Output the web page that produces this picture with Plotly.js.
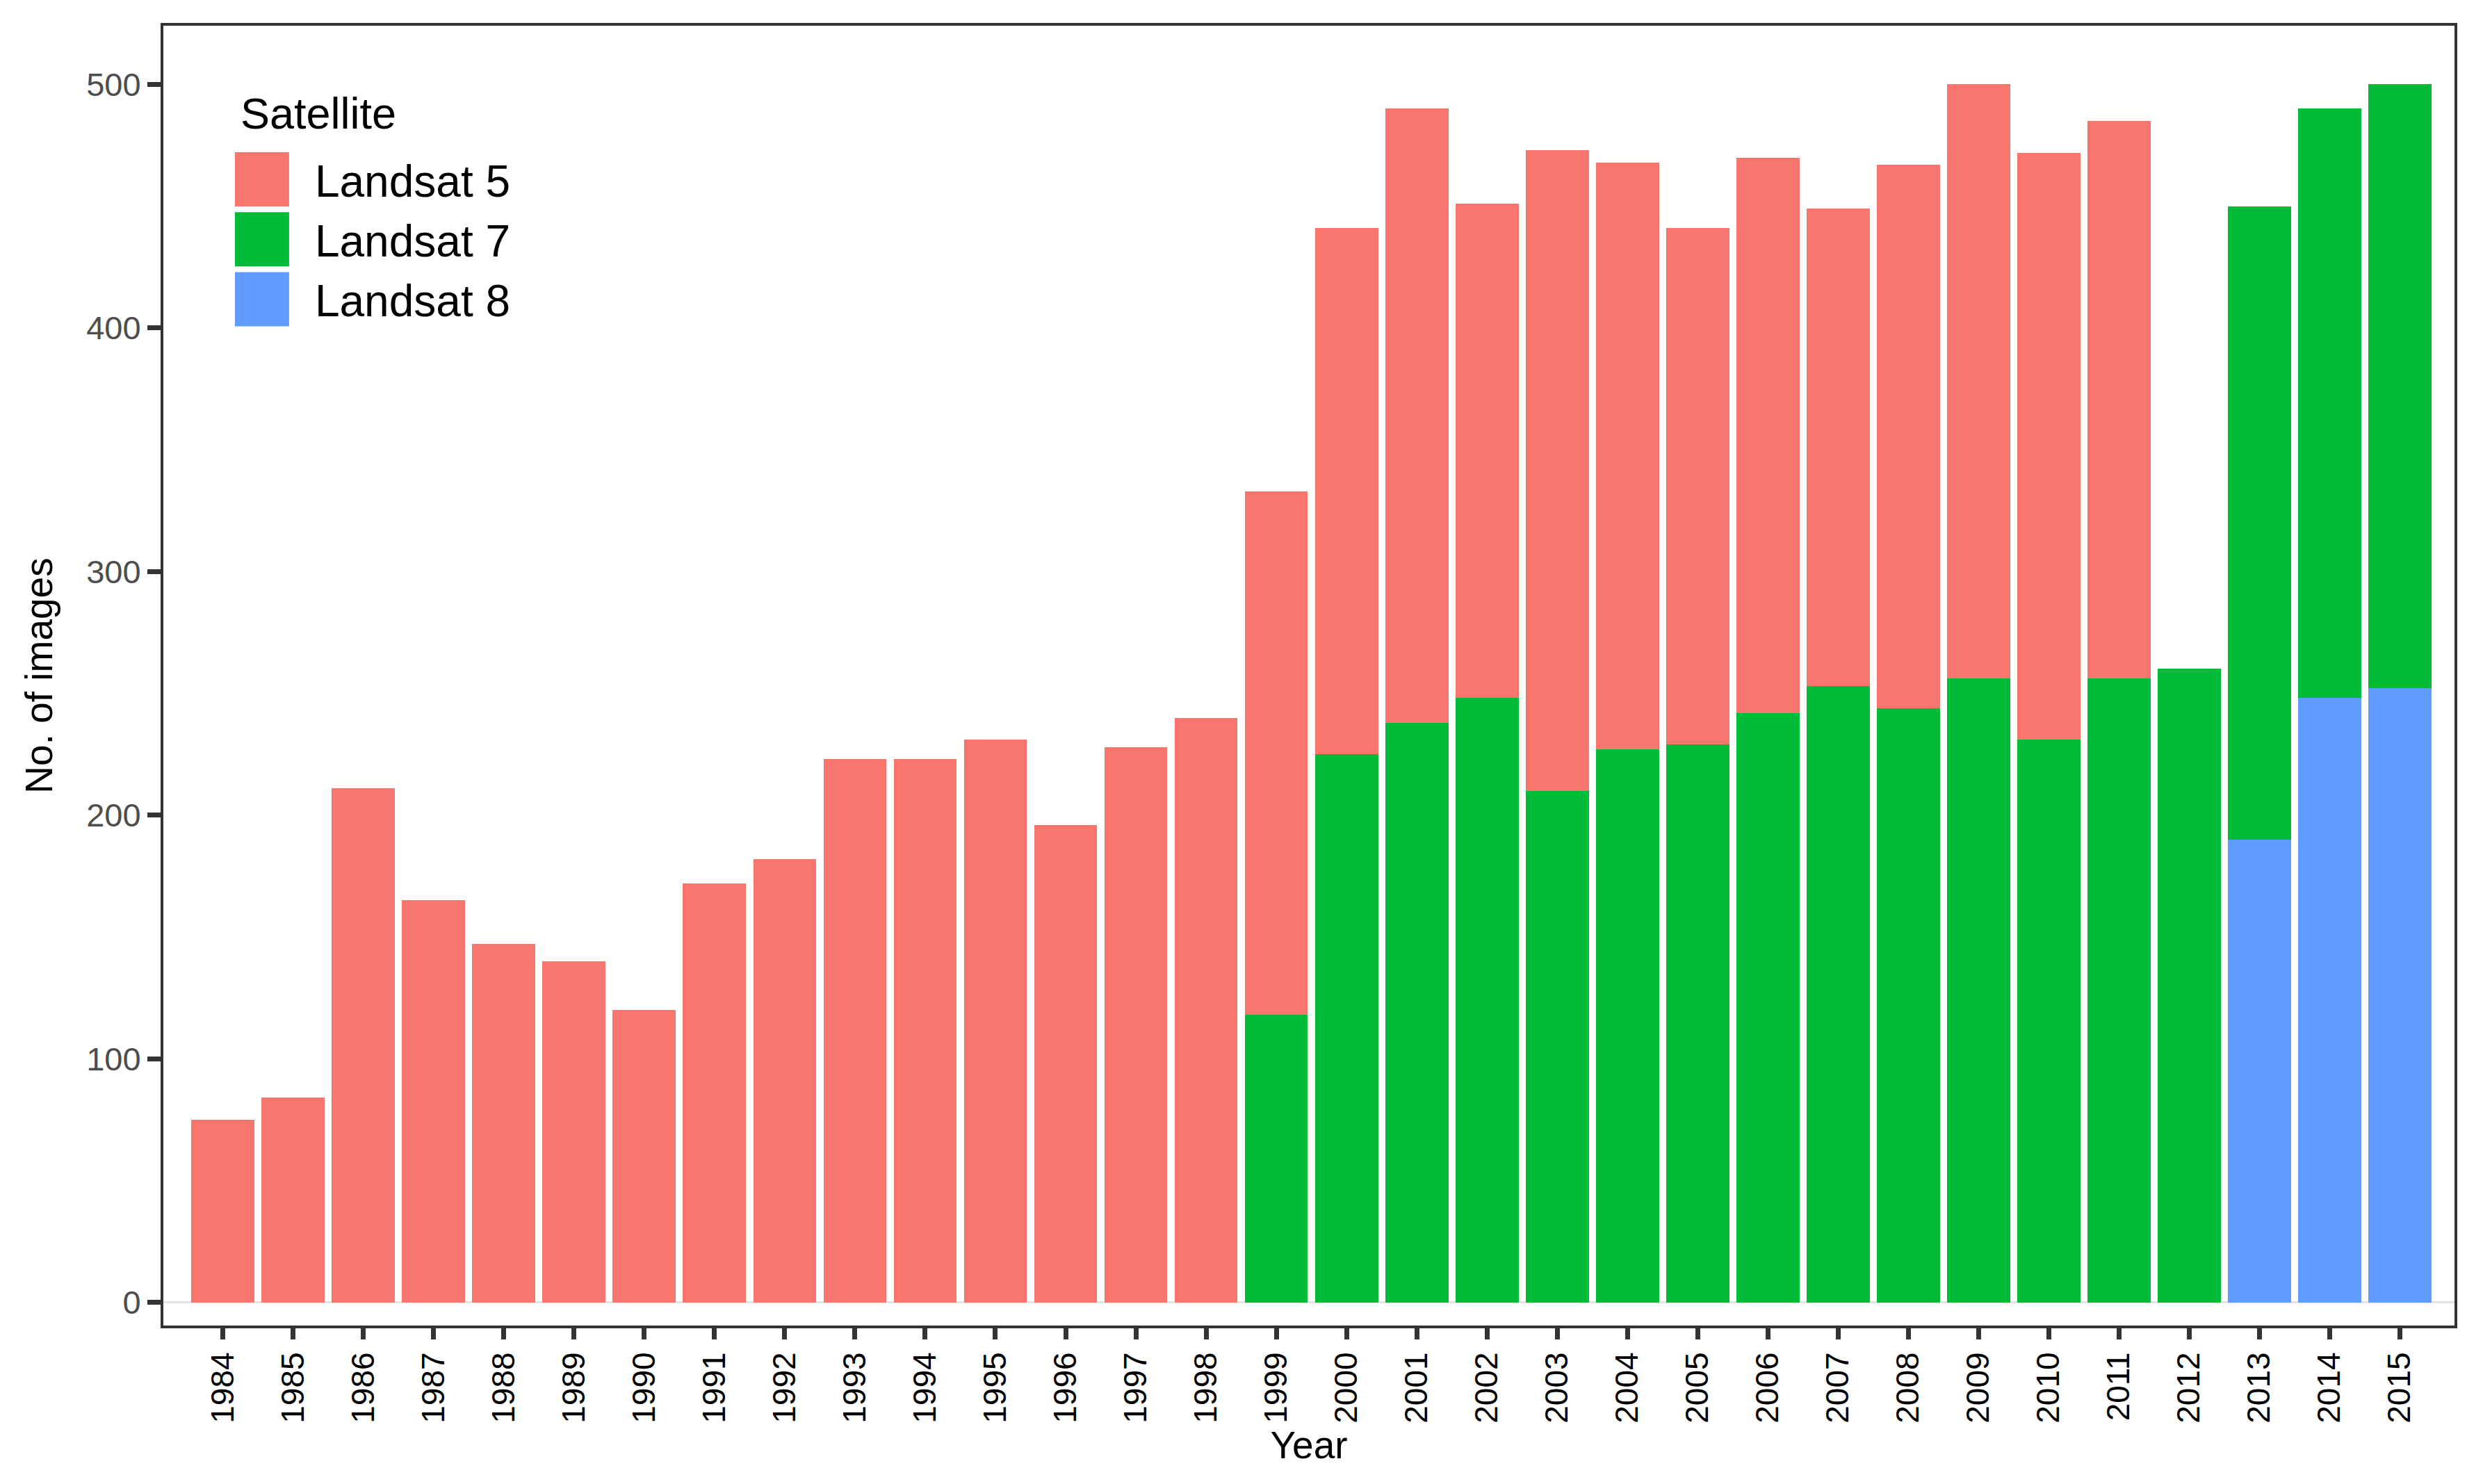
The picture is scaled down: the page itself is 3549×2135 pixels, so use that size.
<!DOCTYPE html>
<html>
<head>
<meta charset="utf-8">
<script src="https://cdn.plot.ly/plotly-3.0.1.min.js"></script>
<style>html,body{margin:0;padding:0;background:#fff;}#chart{width:3549px;height:2135px;}</style>
</head>
<body>
<div id="chart"></div>
<script>
const years = ['1984','1985','1986','1987','1988','1989','1990','1991','1992','1993','1994','1995','1996','1997','1998','1999','2000','2001','2002','2003','2004','2005','2006','2007','2008','2009','2010','2011','2012','2013','2014','2015'];
const landsat5 = [75,84,211,165,147,140,120,172,182,223,223,231,196,228,240,215,216,252,203,263,241,212,228,196,223,244,241,229,null,null,null,null];
const landsat7 = [null,null,null,null,null,null,null,null,null,null,null,null,null,null,null,118,225,238,248,210,227,229,242,253,244,256,231,256,260,260,242,248];
const landsat8 = [null,null,null,null,null,null,null,null,null,null,null,null,null,null,null,null,null,null,null,null,null,null,null,null,null,null,null,null,null,190,248,252];
const seriesNames = ['Landsat 5','Landsat 7','Landsat 8'];
const seriesColors = ['#F8766D','#00BA38','#619CFF'];
const legendTitle = 'Satellite';
const yTicks = [0,100,200,300,400,500];

const FONT = 'Liberation Sans, Arial, Helvetica, sans-serif';

function barTrace(name, vals, color, rank) {
  return {
    type: 'bar', name: name, x: years, y: vals,
    marker: {color: color, line: {width: 0}},
    legendrank: rank, hoverinfo: 'x+y+name'
  };
}

const data = [
  barTrace(seriesNames[2], landsat8, seriesColors[2], 3),
  barTrace(seriesNames[1], landsat7, seriesColors[1], 2),
  barTrace(seriesNames[0], landsat5, seriesColors[0], 1)
];

const layout = {
  width: 3549, height: 2135,
  paper_bgcolor: '#ffffff', plot_bgcolor: '#ffffff',
  margin: {l: 235, r: 18, t: 37, b: 228, pad: 0},
  barmode: 'stack', bargap: 0.1,
  font: {family: FONT, color: '#000000'},
  showlegend: true,
  legend: {
    x: 0.02, y: 0.9075, xanchor: 'left', yanchor: 'top',
    bgcolor: 'rgba(255,255,255,0)', borderwidth: 0,
    font: {family: FONT, size: 64, color: '#000000'},
    itemwidth: 142, tracegroupgap: 0, traceorder: 'normal'
  },
  annotations: [{
    text: legendTitle, xref: 'paper', yref: 'paper',
    x: 0.0331, y: 0.9326, xanchor: 'left', yanchor: 'middle',
    showarrow: false,
    font: {family: FONT, size: 63, color: '#000000'}
  }],
  xaxis: {
    type: 'category', range: [-0.85, 31.78], autorange: false,
    showgrid: false, zeroline: false,
    showline: true, mirror: true, linecolor: '#333333', linewidth: 4,
    ticks: 'outside', ticklen: 16, tickwidth: 7, tickcolor: '#333333',
    tickangle: -90,
    tickfont: {family: FONT, size: 46, color: '#000000'},
    title: {text: 'Year', font: {family: FONT, size: 55, color: '#000000'}, standoff: 4}
  },
  yaxis: {
    range: [-9.56, 524.1], autorange: false,
    tickvals: yTicks, ticktext: yTicks.map(String),
    showgrid: false,
    zeroline: true, zerolinecolor: '#E3E3E3', zerolinewidth: 3,
    showline: true, mirror: true, linecolor: '#333333', linewidth: 4,
    ticks: 'outside', ticklen: 19, tickwidth: 7, tickcolor: '#333333',
    tickfont: {family: FONT, size: 47, color: '#4D4D4D'},
    title: {text: 'No. of images', font: {family: FONT, size: 55, color: '#000000'}, standoff: 32}
  }
};

Plotly.newPlot('chart', data, layout, {displayModeBar: false, staticPlot: true}).then(function(gd){
  // enlarge legend keys to match the reference's large square keys
  gd.querySelectorAll('.legend .legendpoints path').forEach(function(p){
    p.setAttribute('d', 'M39,39H-39V-39H39Z');
  });
});
</script>
</body>
</html>
